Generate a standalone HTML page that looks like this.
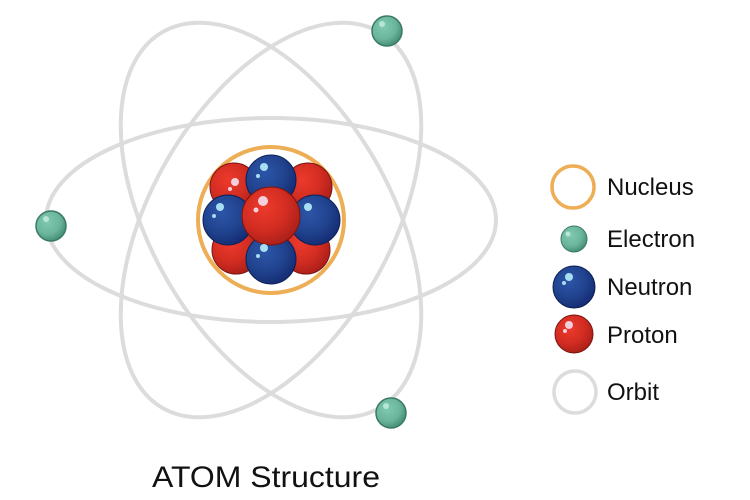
<!DOCTYPE html>
<html><head><meta charset="utf-8"><style>
html,body{margin:0;padding:0;background:#fff;width:750px;height:500px;overflow:hidden}
</style></head><body>
<svg width="750" height="500" viewBox="0 0 750 500" xmlns="http://www.w3.org/2000/svg">
<defs>
<radialGradient id="gb" cx="0.38" cy="0.35" r="0.7">
<stop offset="0" stop-color="#2d55a8"/><stop offset="0.55" stop-color="#21448f"/><stop offset="1" stop-color="#142a72"/></radialGradient>
<radialGradient id="gr" cx="0.38" cy="0.35" r="0.7">
<stop offset="0" stop-color="#ec3a2c"/><stop offset="0.55" stop-color="#d42d22"/><stop offset="1" stop-color="#a81f18"/></radialGradient>
<radialGradient id="gg" cx="0.38" cy="0.35" r="0.7">
<stop offset="0" stop-color="#80c9b2"/><stop offset="0.6" stop-color="#6bb59c"/><stop offset="1" stop-color="#3f8a70"/></radialGradient>
</defs>
<g fill="none" stroke="#dcdcdc" stroke-width="4">
<ellipse cx="271" cy="220" rx="225" ry="102"/>
<ellipse cx="271" cy="220" rx="217" ry="120" transform="rotate(60 271 220)"/>
<ellipse cx="271" cy="220" rx="217" ry="120" transform="rotate(-60 271 220)"/>
</g>
<circle cx="271" cy="220" r="73" fill="#fff" stroke="#eeae55" stroke-width="4"/>
<g stroke="#7a1410" stroke-width="1">
<circle cx="234" cy="187" r="24" fill="url(#gr)"/>
<circle cx="308" cy="187" r="24" fill="url(#gr)"/>
<circle cx="236" cy="250" r="24" fill="url(#gr)"/>
<circle cx="306" cy="250" r="24" fill="url(#gr)"/>
</g>
<g stroke="#0e1f55" stroke-width="1">
<circle cx="271" cy="180" r="25" fill="url(#gb)"/>
<circle cx="228" cy="220" r="25" fill="url(#gb)"/>
<circle cx="315" cy="220" r="25" fill="url(#gb)"/>
<circle cx="271" cy="259" r="25" fill="url(#gb)"/>
</g>
<circle cx="271" cy="216" r="29" fill="url(#gr)" stroke="#7a1410"/>
<g fill="#a8def2">
<circle cx="264" cy="167" r="4"/><circle cx="258" cy="176" r="2"/>
<circle cx="220" cy="207" r="4"/><circle cx="214" cy="216" r="2"/>
<circle cx="308" cy="207" r="4"/>
<circle cx="264" cy="248" r="4"/><circle cx="258" cy="256" r="2"/>
</g>
<g fill="#f4d0dc">
<circle cx="263" cy="201" r="5"/><circle cx="256" cy="210" r="2.5"/>
<circle cx="235" cy="182" r="4"/><circle cx="230" cy="189" r="2"/>
</g>
<g stroke="#3a7a62" stroke-width="1.5">
<circle cx="51" cy="226" r="15" fill="url(#gg)"/>
<circle cx="387" cy="31" r="15" fill="url(#gg)"/>
<circle cx="391" cy="413" r="15" fill="url(#gg)"/>
</g>
<g fill="#b8e6d6">
<circle cx="46" cy="219" r="3"/><circle cx="382" cy="24" r="3"/><circle cx="386" cy="406" r="3"/>
</g>
<circle cx="573" cy="187" r="21" fill="none" stroke="#eeae55" stroke-width="3.5"/>
<circle cx="574" cy="239" r="13" fill="url(#gg)" stroke="#3a7a62"/>
<circle cx="568" cy="234" r="2.5" fill="#b8e6d6"/>
<circle cx="574" cy="287" r="21" fill="url(#gb)" stroke="#0e1f55"/>
<circle cx="569" cy="277" r="4" fill="#a8def2"/><circle cx="564" cy="283" r="2" fill="#a8def2"/>
<circle cx="574" cy="334" r="19" fill="url(#gr)" stroke="#7a1410"/>
<circle cx="569" cy="325" r="4" fill="#f4d0dc"/><circle cx="565" cy="331" r="2" fill="#f4d0dc"/>
<circle cx="575" cy="392" r="21" fill="none" stroke="#dcdcdc" stroke-width="3.5"/>
<g font-family="Liberation Sans, sans-serif" font-size="24" fill="#111">
<text x="607" y="195">Nucleus</text>
<text x="607" y="247">Electron</text>
<text x="607" y="295">Neutron</text>
<text x="607" y="343">Proton</text>
<text x="607" y="400">Orbit</text>
</g>
<text x="152" y="487" font-family="Liberation Sans, sans-serif" font-size="30" fill="#111" textLength="228" lengthAdjust="spacingAndGlyphs">ATOM Structure</text>
</svg>
</body></html>
